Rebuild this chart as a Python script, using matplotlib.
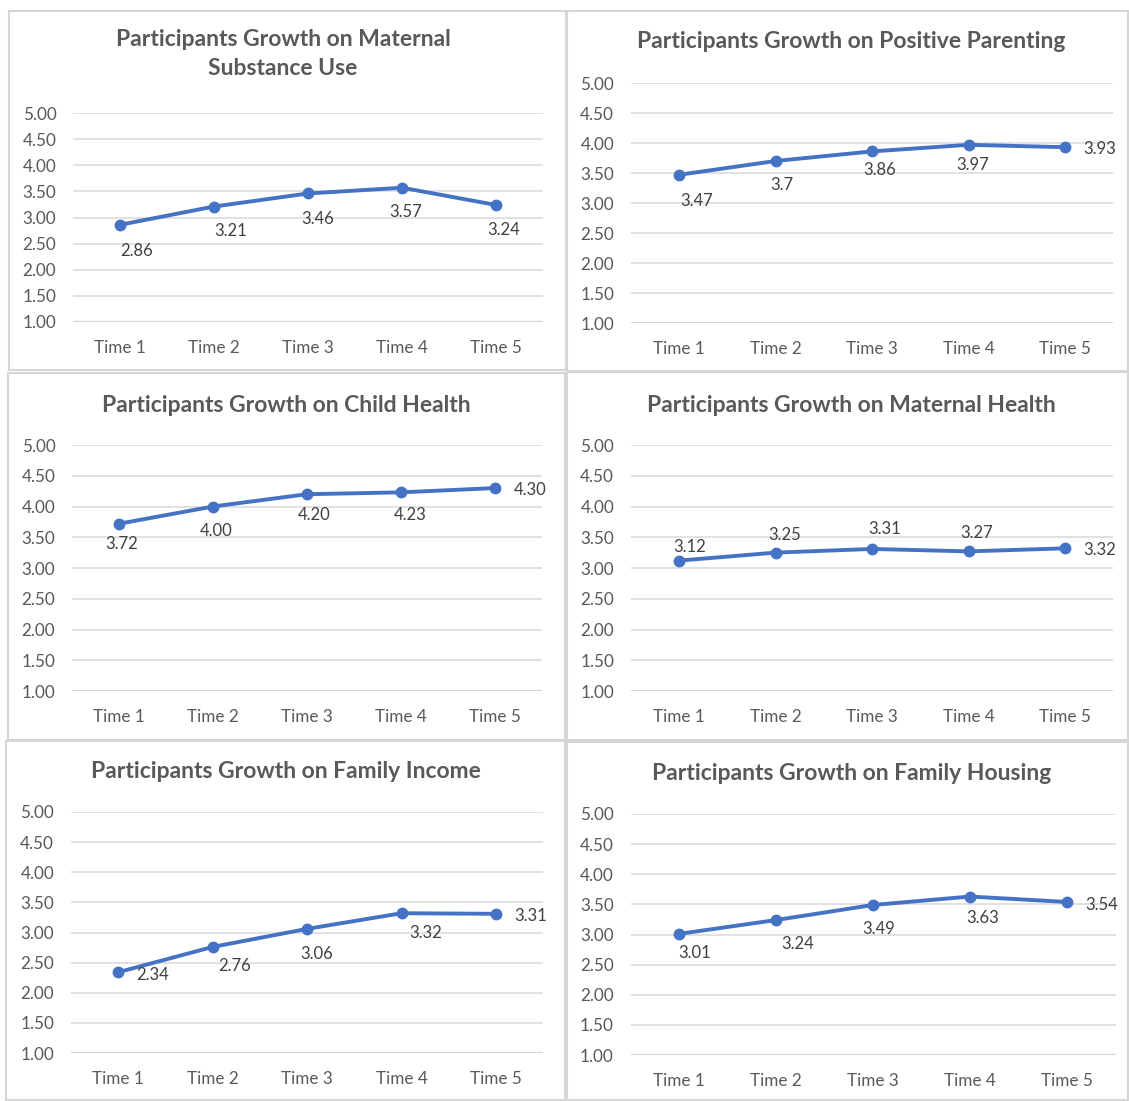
import matplotlib
matplotlib.use("Agg")
import matplotlib.pyplot as plt
from matplotlib.patches import Rectangle

plt.rcParams['font.family'] = ['Lato', 'DejaVu Sans']

categories = ["Time 1", "Time 2", "Time 3", "Time 4", "Time 5"]
yticks = [1.0, 1.5, 2.0, 2.5, 3.0, 3.5, 4.0, 4.5, 5.0]

titles = [
    "Participants Growth on Maternal\nSubstance Use",
    "Participants Growth on Positive Parenting",
    "Participants Growth on Child Health",
    "Participants Growth on Maternal Health",
    "Participants Growth on Family Income",
    "Participants Growth on Family Housing",
]

maternal_substance_use = [2.86, 3.21, 3.46, 3.57, 3.24]
positive_parenting = [3.47, 3.70, 3.86, 3.97, 3.93]
child_health = [3.72, 4.00, 4.20, 4.23, 4.30]
maternal_health = [3.12, 3.25, 3.31, 3.27, 3.32]
family_income = [2.34, 2.76, 3.06, 3.32, 3.31]
family_housing = [3.01, 3.24, 3.49, 3.63, 3.54]

label_texts = [
    ["2.86", "3.21", "3.46", "3.57", "3.24"],
    ["3.47", "3.7", "3.86", "3.97", "3.93"],
    ["3.72", "4.00", "4.20", "4.23", "4.30"],
    ["3.12", "3.25", "3.31", "3.27", "3.32"],
    ["2.34", "2.76", "3.06", "3.32", "3.31"],
    ["3.01", "3.24", "3.49", "3.63", "3.54"],
]
series = [maternal_substance_use, positive_parenting, child_health,
          maternal_health, family_income, family_housing]

# ---- layout (pixels) ----
W, H = 1129, 1101
# axes: (x_left, x_right, y_top, y_bottom)
axes_px = [
    (73, 543, 113, 322),
    (630.75, 1113.25, 83, 323),
    (72, 542, 445, 691),
    (630.75, 1113.25, 445, 691),
    (70.75, 543.25, 812, 1053),
    (630.5, 1115.5, 814, 1055),
]
# panel frames: (x0, x1, y0, y1)
frames_px = [
    (9, 566, 11, 370),
    (567, 1128, 11, 371),
    (8, 565, 373, 740),
    (567, 1128, 372, 740),
    (6, 565, 741, 1100),
    (567, 1128, 742, 1100),
]
# title centers (x, y)
title_px = [(283, 54), (851, 42), (286, 405), (851, 405), (286, 772), (852, 773)]
# label offsets in pixels (dx right, dy down)
offsets_px = [
    [(17, 24), (17, 22), (10, 24), (4, 22), (8, 23)],
    [(18, 24), (6, 22), (8, 17), (4, 18), (35, 0)],
    [(3, 18), (3, 22), (7, 19), (9, 21), (35, 0)],
    [(11, -16), (9, -20), (13, -22), (8, -20), (35, 0)],
    [(35, 1), (22, 17), (10, 23), (24, 18), (35, 0)],
    [(16, 17), (22, 22), (6, 22), (13, 19), (35, 1)],
]

LINE = "#4472C4"
GRID = "#D9D9D9"
TICK = "#595959"
LABEL = "#404040"

fig = plt.figure(figsize=(W / 100, H / 100), dpi=100)
fig.patch.set_facecolor("white")

for (x0, x1, y0, y1) in frames_px:
    fig.patches.append(Rectangle((x0 / W, 1 - y1 / H), (x1 - x0) / W, (y1 - y0) / H,
                                 transform=fig.transFigure, fill=False,
                                 edgecolor="#D6D6D6", linewidth=1.5))

pt = 72 / 100
for i in range(6):
    xl, xr, yt, yb = axes_px[i]
    ax = fig.add_axes([xl / W, 1 - yb / H, (xr - xl) / W, (yb - yt) / H])
    ax.set_facecolor("none")
    xs = list(range(len(categories)))
    ax.plot(xs, series[i], color=LINE, linewidth=2.8, marker="o", markersize=7.5,
            solid_joinstyle="round", zorder=3, clip_on=False)
    ax.set_xlim(-0.5, 4.5)
    ax.set_ylim(1.0, 5.0)
    ax.set_yticks(yticks)
    ax.set_yticklabels([f"{v:.2f}" for v in yticks])
    ax.set_xticks(xs)
    ax.set_xticklabels(categories)
    ax.tick_params(length=0, labelsize=12.3, colors=TICK)
    ax.tick_params(axis="y", pad=12)
    ax.tick_params(axis="x", pad=13)
    for s in ax.spines.values():
        s.set_visible(False)
    ax.grid(axis="y", color=GRID, linewidth=1.1, zorder=0)
    ax.axhline(1.0, color="#D0D0D0", linewidth=1.6, zorder=1)
    for j, (v, t) in enumerate(zip(series[i], label_texts[i])):
        dx, dy = offsets_px[i][j]
        ax.annotate(t, (j, v), xytext=(dx * pt, -(dy + 2) * pt), textcoords="offset points",
                    ha="center", va="center", fontsize=12, color=LABEL)
    tx, ty = title_px[i]
    fig.text(tx / W, 1 - ty / H, titles[i], ha="center", va="center",
             fontsize=16.5, fontweight="bold", color=TICK, linespacing=1.5)

fig.savefig("out.png", dpi=100, facecolor="white")
